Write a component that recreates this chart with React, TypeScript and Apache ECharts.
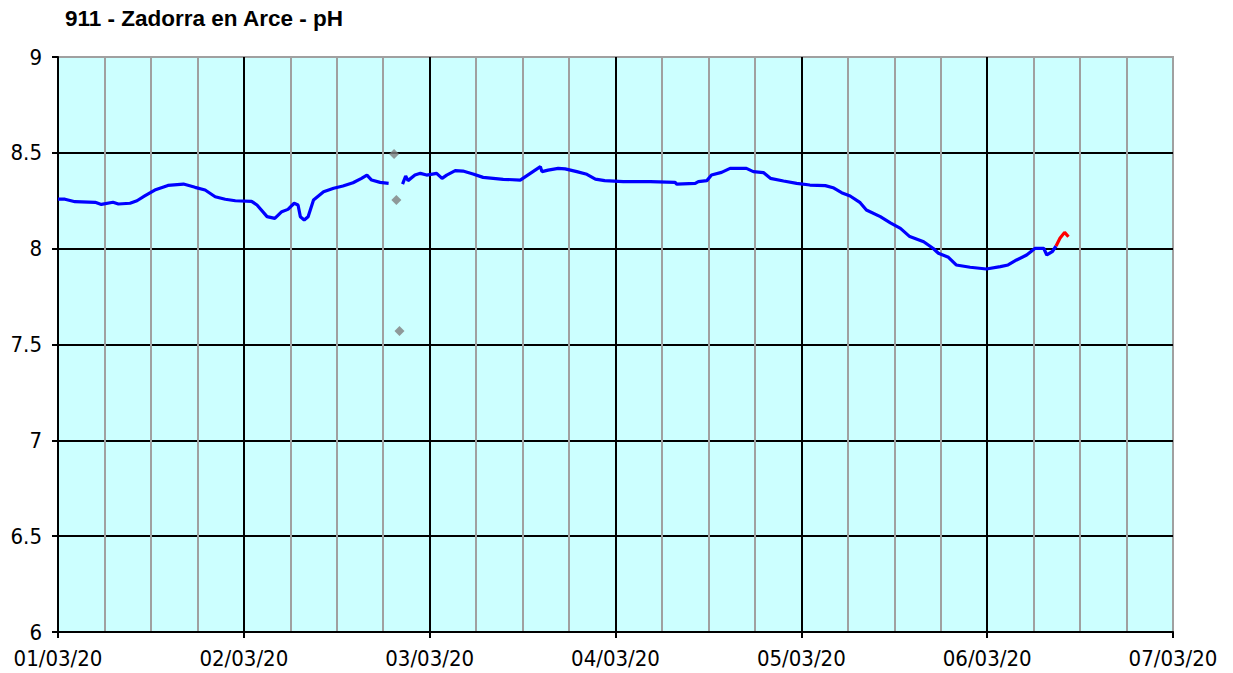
import React, { useEffect, useRef } from "react";
import * as echarts from "echarts";

const TITLE = "911 - Zadorra en Arce - pH";
const DATE_LABELS = ["01/03/20", "02/03/20", "03/03/20", "04/03/20", "05/03/20", "06/03/20", "07/03/20"];
const Y_TICKS = [6, 6.5, 7, 7.5, 8, 8.5, 9];

// hours since 01/03/20 00:00
const BLUE1_HOURS = [0, 0.9, 2.2, 4.8, 5.6, 7.1, 7.8, 9.3, 10.2, 11.2, 12.5, 14.2, 16.2, 17.7, 19.0, 20.3, 21.6, 22.9, 25.0, 25.7, 27.0, 28.0, 28.9, 29.7, 30.5, 31.0, 31.3, 31.8, 32.3, 33.0, 34.3, 35.6, 36.8, 38.1, 39.2, 39.9, 40.5, 41.6, 42.7];
const BLUE1_PH = [8.258, 8.258, 8.245, 8.242, 8.231, 8.242, 8.233, 8.237, 8.25, 8.275, 8.306, 8.33, 8.337, 8.32, 8.306, 8.271, 8.258, 8.25, 8.247, 8.228, 8.167, 8.158, 8.193, 8.205, 8.237, 8.228, 8.167, 8.15, 8.167, 8.254, 8.297, 8.315, 8.327, 8.344, 8.367, 8.384, 8.358, 8.346, 8.341];

const BLUE2_HOURS = [44.5, 44.9, 45.2, 46.1, 46.8, 47.6, 48.9, 49.6, 50.2, 51.3, 52.3, 53.6, 54.9, 57.5, 59.7, 61.0, 62.3, 62.5, 63.3, 64.6, 65.5, 67.0, 68.3, 69.4, 70.6, 73.0, 76.5, 79.7, 79.9, 82.3, 82.7, 83.8, 84.4, 85.7, 86.8, 88.9, 89.8, 91.1, 92.0, 93.7, 95.4, 97.1, 99.1, 100.1, 101.2, 102.3, 103.6, 104.4, 106.2, 107.5, 108.8, 110.0, 111.8, 113.0, 113.7, 115.0, 116.0, 117.8, 119.9, 121.7, 122.7, 123.8, 125.1, 126.2, 127.3, 127.7, 128.4, 128.9];
const BLUE2_PH = [8.337, 8.379, 8.355, 8.384, 8.393, 8.384, 8.393, 8.367, 8.384, 8.407, 8.405, 8.39, 8.372, 8.362, 8.358, 8.393, 8.428, 8.402, 8.41, 8.419, 8.416, 8.402, 8.388, 8.363, 8.355, 8.35, 8.35, 8.346, 8.337, 8.341, 8.35, 8.355, 8.384, 8.398, 8.419, 8.419, 8.402, 8.397, 8.367, 8.353, 8.341, 8.332, 8.329, 8.318, 8.292, 8.275, 8.24, 8.202, 8.167, 8.135, 8.106, 8.063, 8.036, 8.002, 7.976, 7.955, 7.915, 7.903, 7.894, 7.906, 7.915, 7.941, 7.967, 8.002, 8.002, 7.967, 7.984, 8.014];

const RED_HOURS = [128.9, 129.4, 130.0, 130.5];
const RED_PH = [8.014, 8.054, 8.085, 8.062];

const GREY_HOURS = [43.4, 43.7, 44.1];
const GREY_PH = [8.494, 8.254, 7.57];

const zip = (xs: number[], ys: number[]) => xs.map((x, i) => [x, ys[i]]);

export default function App() {
  const ref = useRef<HTMLDivElement>(null);

  useEffect(() => {
    document.body.style.margin = "0";
    if (!ref.current) return;
    const chart = echarts.init(ref.current, null, { renderer: "svg" });
    const blueData: any[] = [...zip(BLUE1_HOURS, BLUE1_PH), [43.6, null], ...zip(BLUE2_HOURS, BLUE2_PH)];
    const labelFont = "DejaVu Sans Condensed";
    chart.setOption({
      animation: false,
      backgroundColor: "#ffffff",
      title: {
        text: TITLE,
        left: 65,
        top: 7,
        padding: 0,
        textStyle: { fontFamily: "Liberation Sans", fontWeight: "bold", fontSize: 22.5, color: "#000" },
      },
      grid: {
        left: 58,
        right: 60,
        top: 57,
        bottom: 41,
        show: true,
        backgroundColor: "#CCFFFF",
        borderColor: "#A0A0A0",
        borderWidth: 2,
      },
      xAxis: {
        type: "value",
        min: 0,
        max: 144,
        interval: 24,
        axisLine: { show: true, lineStyle: { color: "#000", width: 2 } },
        axisTick: { show: true, length: 6, lineStyle: { color: "#000", width: 2 } },
        axisLabel: {
          margin: 15,
          fontFamily: labelFont,
          fontSize: 22,
          color: "#000",
          showMaxLabel: true,
          showMinLabel: true,
          formatter: (v: number) => DATE_LABELS[Math.round(v / 24)] ?? "",
        },
        splitLine: { show: true, showMaxLine: false, showMinLine: false, lineStyle: { color: "#000", width: 2 } },
        minorTick: { show: false, splitNumber: 4 },
        minorSplitLine: { show: true, lineStyle: { color: "#A0A0A0", width: 2 } },
      },
      yAxis: {
        type: "value",
        min: Y_TICKS[0],
        max: Y_TICKS[Y_TICKS.length - 1],
        interval: 0.5,
        axisLine: { show: true, lineStyle: { color: "#000", width: 2 } },
        axisTick: { show: true, length: 6, lineStyle: { color: "#000", width: 2 } },
        axisLabel: {
          margin: 16,
          fontFamily: labelFont,
          fontSize: 22,
          color: "#000",
          formatter: (v: number) => String(v),
        },
        splitLine: { show: true, showMaxLine: false, showMinLine: false, lineStyle: { color: "#000", width: 2 } },
      },
      series: [
        {
          type: "line",
          data: blueData,
          connectNulls: false,
          showSymbol: false,
          symbol: "none",
          lineStyle: { color: "#0000FF", width: 3.2 },
          z: 3,
        },
        {
          type: "line",
          data: zip(RED_HOURS, RED_PH),
          showSymbol: false,
          symbol: "none",
          lineStyle: { color: "#FF0000", width: 3.2 },
          z: 4,
        },
        {
          type: "scatter",
          data: zip(GREY_HOURS, GREY_PH),
          symbol: "diamond",
          symbolSize: 10,
          itemStyle: { color: "#808080" },
          z: 5,
        },
      ],
    });
    return () => chart.dispose();
  }, []);

  return <div ref={ref} style={{ width: 1233, height: 673 }} />;
}
